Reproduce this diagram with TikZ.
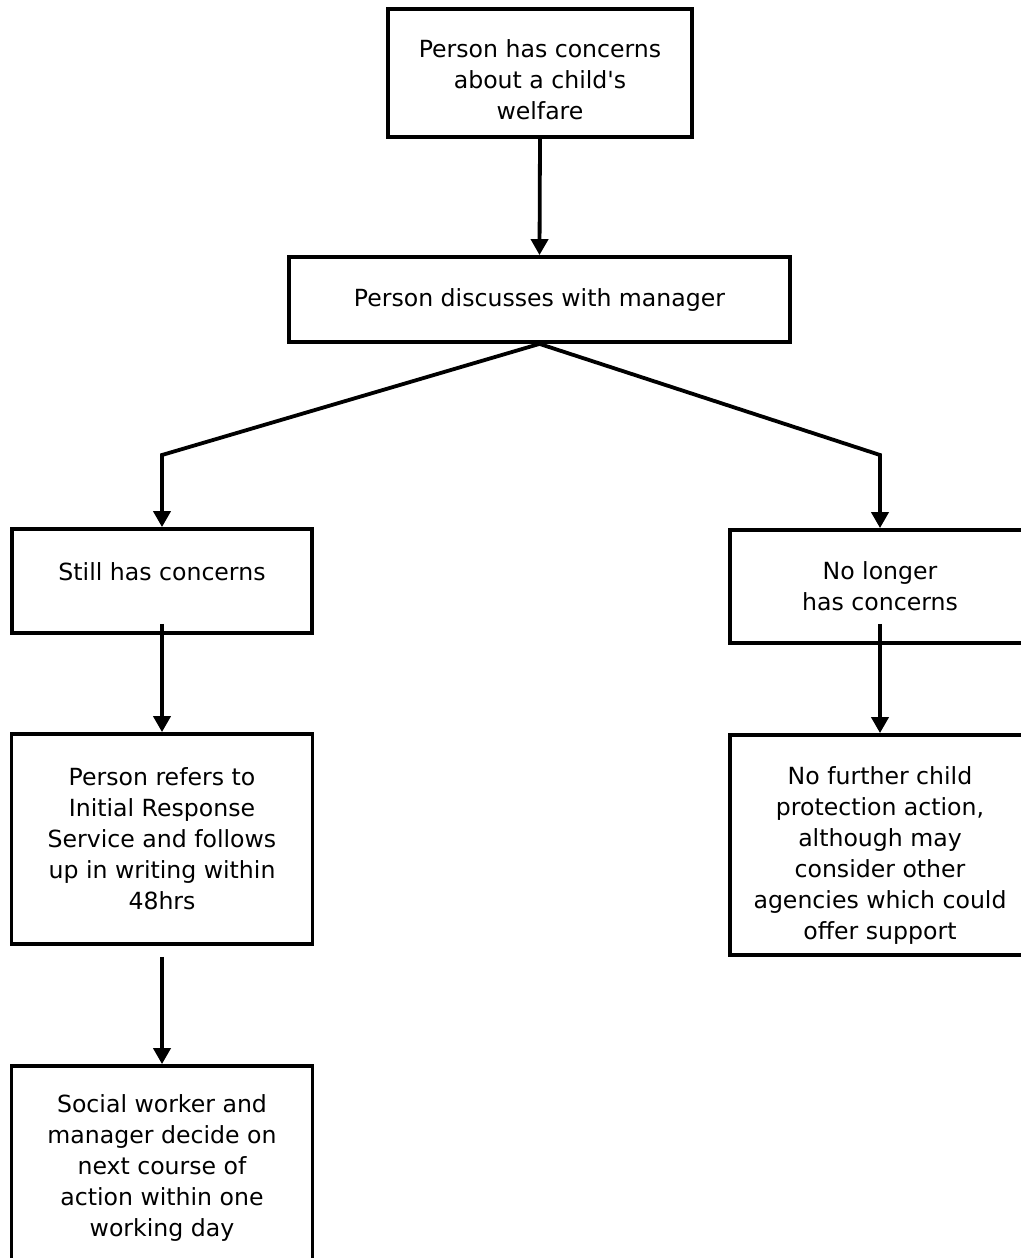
\documentclass[tikz,border=0pt]{standalone}
\usepackage{fontspec}
\setmainfont{DejaVu Sans}[Ligatures=TeXOff]
\usetikzlibrary{arrows.meta,calc}

\begin{document}
\begin{tikzpicture}[x=0.5pt, y=-0.5pt,
    stepbox/.style={draw=black, line width=1.9pt, fill=white, inner sep=0pt, align=center, font=\fontsize{11.8}{15.5}\selectfont},
    steptext/.style={inner sep=0pt, align=center, font=\fontsize{11.8}{15.5}\selectfont},
    flow/.style={-{Triangle[width=8.5pt,length=8pt]}, line width=1.9pt}
]
\useasboundingbox (0,0) rectangle (1021,1258);
\node[stepbox, minimum width=152pt, minimum height=64pt, label={[steptext, yshift=-3.5pt]center:{Person has concerns\\about a child's\\welfare}}] (concern) at (540,73) {};
\node[stepbox, minimum width=250.5pt, minimum height=42.5pt] (discuss) at (539.5,299.5) {Person discusses with manager};
\node[stepbox, minimum width=150pt, minimum height=52pt, label={[steptext, yshift=4.5pt]center:{Still has concerns}}] (still) at (162,581) {};
\node[stepbox, minimum width=150pt, minimum height=56.5pt] (nolonger) at (880,586.5) {No longer\\has concerns};
\node[stepbox, minimum width=150.5pt, minimum height=105pt] (refer) at (162,839) {Person refers to\\Initial Response\\Service and follows\\up in writing within\\48hrs};
\node[stepbox, minimum width=150pt, minimum height=110pt, label={[steptext, yshift=-5pt]center:{No further child\\protection action,\\although may\\consider other\\agencies which could\\offer support}}] (nofurther) at (880,845) {};
\node[stepbox, minimum width=150.5pt, minimum height=102pt] (social) at (162,1168) {Social worker and\\manager decide on\\next course of\\action within one\\working day};
\coordinate (lbend) at (162,455);
\coordinate (rbend) at (880,455);
\draw[flow] (concern.south) -- (discuss.north);
\draw[flow] (discuss.south) -- (lbend) -- (still.north);
\draw[flow] (discuss.south) -- (rbend) -- (nolonger.north);
\draw[flow] ($(still.south)+(0,-11)$) -- (refer.north);
\draw[flow] ($(nolonger.south)+(0,-21)$) -- (nofurther.north);
\draw[flow] ($(refer.south)+(0,11)$) -- (social.north);
\end{tikzpicture}
\end{document}
